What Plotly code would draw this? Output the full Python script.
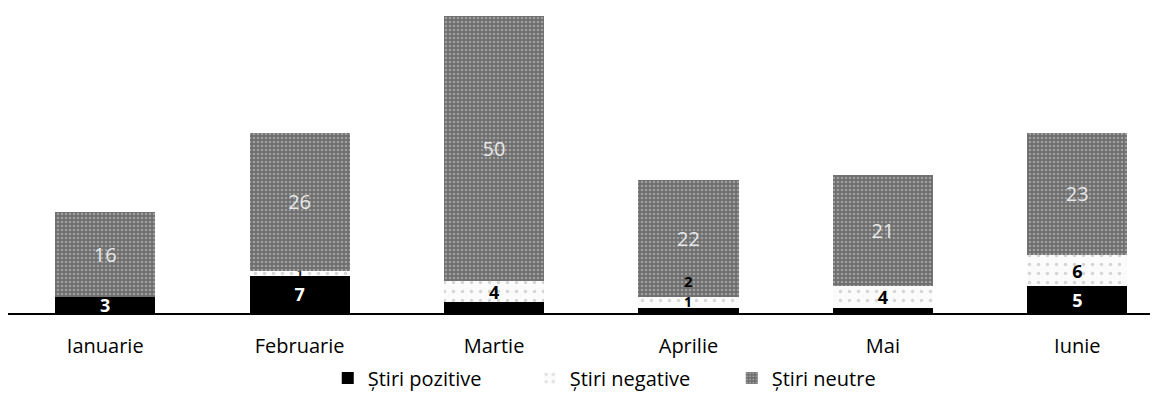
import plotly.graph_objects as go

months = ["Ianuarie", "Februarie", "Martie", "Aprilie", "Mai", "Iunie"]
pozitive = [3, 7, 2, 1, 1, 5]
negative = [0, 1, 4, 2, 4, 6]
neutre = [16, 26, 50, 22, 21, 23]

# label display: which small-segment labels are hidden / placed by annotation (as in the reference)
poz_label_mode = ["inside", "inside", "none", "none", "none", "inside"]
neg_label_mode = ["inside", "inside", "inside", "none", "inside", "inside"]
neg_label_size = [18, 10, 18, 18, 18, 18]

FONT = "Open Sans"

def labels(vals):
    return [str(v) if v > 0 else "" for v in vals]

common = dict(insidetextanchor="middle", textangle=0,
              constraintext="none", cliponaxis=False)

fig = go.Figure()
fig.add_trace(go.Bar(
    x=months, y=pozitive, name="Știri pozitive",
    marker=dict(color="#000000", line=dict(width=0)),
    text=labels(pozitive), textposition=poz_label_mode,
    textfont=dict(color="white", size=18, family=FONT, weight="bold"),
    **common,
))
fig.add_trace(go.Bar(
    x=months, y=negative, name="Știri negative",
    marker=dict(color="#f4f4f4", line=dict(width=0),
                pattern=dict(shape=".", bgcolor="#fbfbfb", fgcolor="#b0b0b0", size=9, solidity=0.12)),
    text=labels(negative), textposition=neg_label_mode,
    textfont=dict(color="black", size=neg_label_size, family=FONT, weight="bold"),
    **common,
))
fig.add_trace(go.Bar(
    x=months, y=neutre, name="Știri neutre",
    marker=dict(color="#8a8a8a", line=dict(width=0),
                pattern=dict(shape=".", bgcolor="#6e6e6e", fgcolor="#d0d0d0", size=4, solidity=0.35)),
    text=labels(neutre), textposition="inside",
    textfont=dict(color="#e8e8e8", size=20, family=FONT),
    **common,
))

# Aprilie small segments: labels lifted above their thin bars (as in the reference)
i = months.index("Aprilie")
fig.add_annotation(x=months[i], y=pozitive[i] / 2, text=str(pozitive[i]), showarrow=False,
                   yshift=9, font=dict(color="black", size=14, family=FONT, weight="bold"))
fig.add_annotation(x=months[i], y=pozitive[i] + negative[i] / 2, text=str(negative[i]), showarrow=False,
                   yshift=21, font=dict(color="black", size=15, family=FONT, weight="bold"))

fig.update_layout(
    barmode="stack",
    bargap=0.485,
    width=1153, height=388,
    margin=dict(l=0, r=11, t=0, b=83, autoexpand=False),
    paper_bgcolor="white", plot_bgcolor="white",
    font=dict(family=FONT, size=20, color="black"),
    showlegend=True,
    legend=dict(orientation="h", x=0.28, xanchor="left", y=-0.213, yanchor="middle",
                traceorder="normal", entrywidth=157, font=dict(size=20, family=FONT)),
)
fig.update_xaxes(range=[-0.5, 5.374], showline=True, linecolor="black", linewidth=1.5,
                 ticks="outside", ticklen=14, tickcolor="rgba(0,0,0,0)",
                 tickfont=dict(size=20, family=FONT), showgrid=False)
fig.update_yaxes(range=[0, 57.5], visible=False, showgrid=False)

fig.write_html("out.html")
